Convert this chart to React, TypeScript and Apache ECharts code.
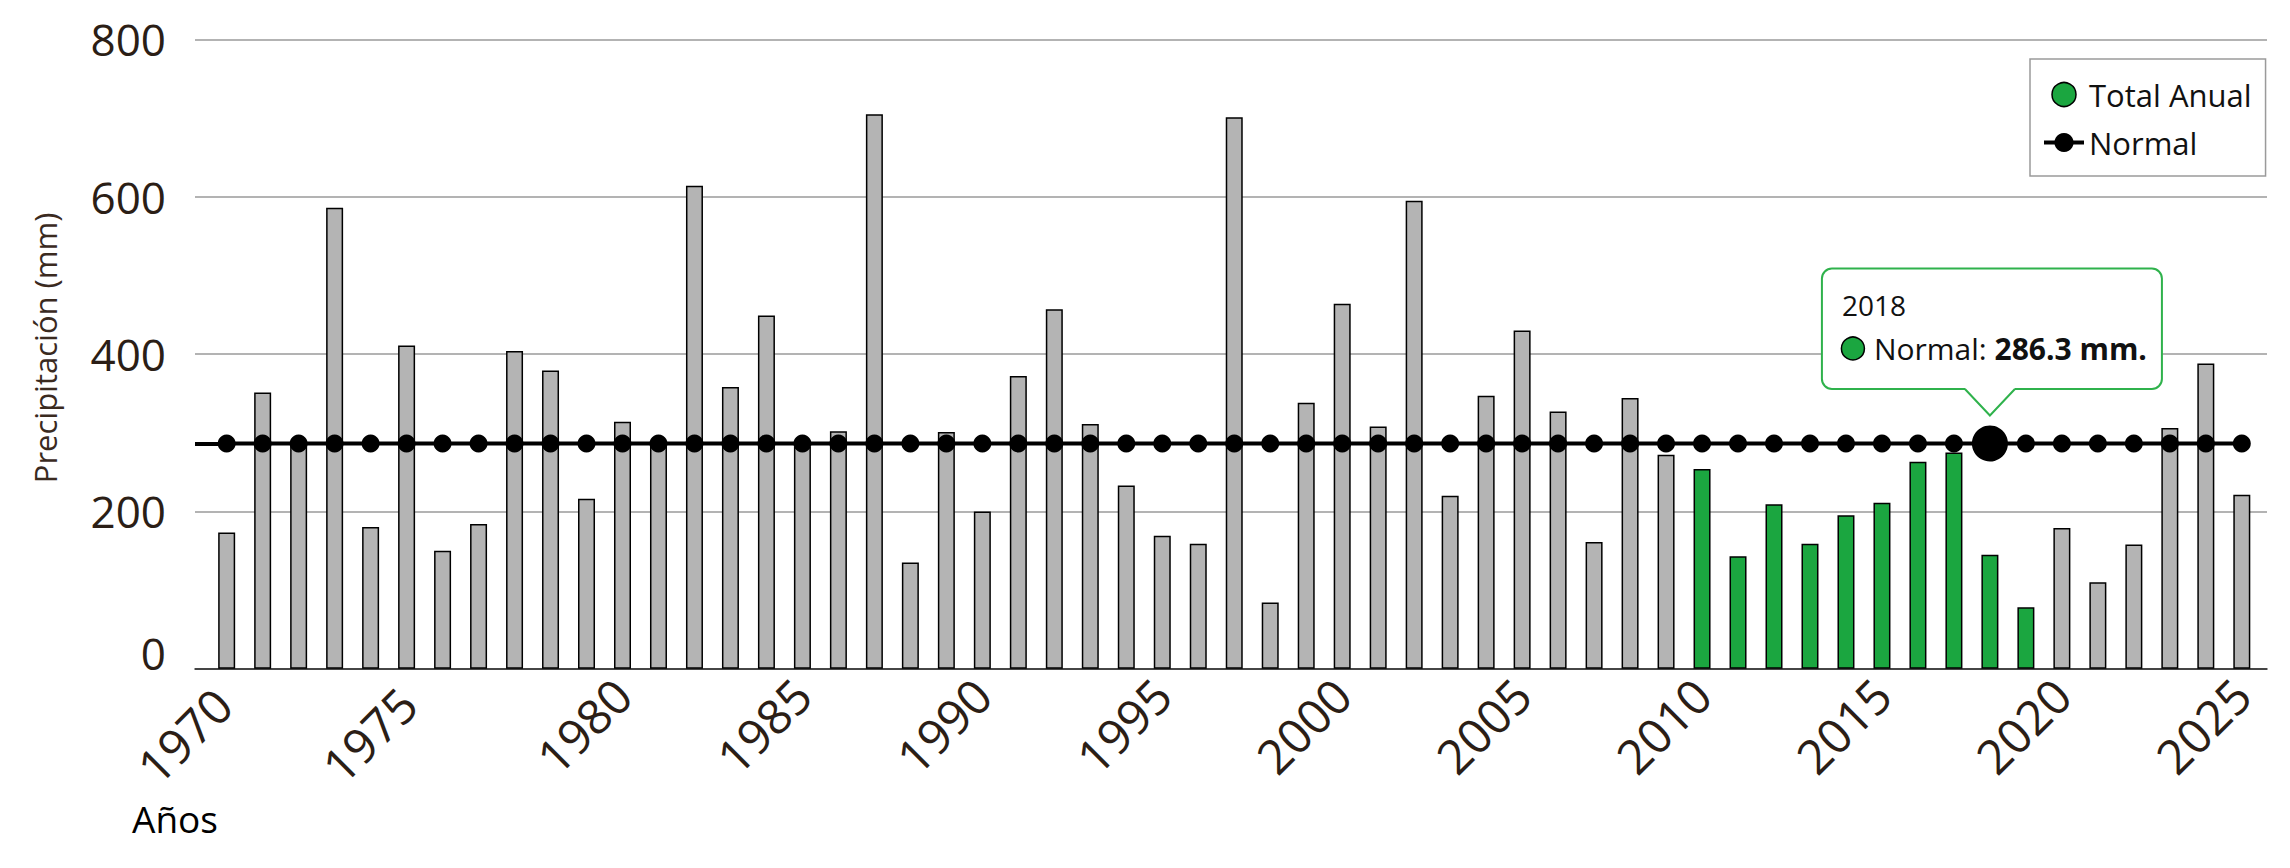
import { useEffect, useRef } from "react";
import * as echarts from "echarts";

// ---- data ----
const YEARS = [
  1969, 1970, 1971, 1972, 1973, 1974, 1975, 1976, 1977, 1978,
  1979, 1980, 1981, 1982, 1983, 1984, 1985, 1986, 1987, 1988,
  1989, 1990, 1991, 1992, 1993, 1994, 1995, 1996, 1997, 1998,
  1999, 2000, 2001, 2002, 2003, 2004, 2005, 2006, 2007, 2008,
  2009, 2010, 2011, 2012, 2013, 2014, 2015, 2016, 2017, 2018,
  2019, 2020, 2021, 2022, 2023, 2024, 2025,
];
const TOTALS = [
  173, 351, 285, 586, 180, 411, 150, 184, 404, 379,
  216, 314, 283, 614, 358, 449, 282, 302, 705, 135,
  301, 200, 372, 457, 311, 233, 169, 159, 701, 84,
  338, 464, 308, 595, 220, 347, 430, 327, 161, 344,
  272, 254, 143, 209, 159, 195, 211, 263, 275, 145,
  78, 179, 110, 158, 306, 388, 221,
];
const GREEN_YEARS = [2010, 2011, 2012, 2013, 2014, 2015, 2016, 2017, 2018, 2019];
const NORMAL = 286.3;
const TOOLTIP_YEAR = 2018;
const X_TICK_LABELS = [1970, 1975, 1980, 1985, 1990, 1995, 2000, 2005, 2010, 2015, 2020, 2025];
const Y_TICKS = [0, 200, 400, 600, 800];

// ---- styling ----
const GREEN = "#1ba640";
const GRAY = "#b4b4b4";
const FONT = "'Open Sans', 'Noto Sans', sans-serif";
const LABEL_COLOR = "#2b1e16";
const X_MIN = 1968.12;
const X_MAX = 2025.7;

export default function App() {
  const ref = useRef<HTMLDivElement>(null);

  useEffect(() => {
    if (!ref.current) return;
    const chart = echarts.init(ref.current, undefined, { renderer: "svg" });

    const barData = YEARS.map((y, i) => {
      const isGreen = GREEN_YEARS.includes(y);
      return {
        value: [y, TOTALS[i]],
        itemStyle: { color: isGreen ? GREEN : GRAY },
      };
    });
    const lineData = YEARS.map((y) =>
      y === TOOLTIP_YEAR
        ? { value: [y, NORMAL], symbolSize: 36 }
        : { value: [y, NORMAL] }
    );

    const xLabelText = { fontSize: 48, color: LABEL_COLOR, fontFamily: FONT };

    chart.setOption({
      animation: false,
      textStyle: { fontFamily: FONT },
      grid: { left: 195, right: 23, top: 39.4, bottom: 199.3, containLabel: false },
      legend: {
        orient: "vertical",
        left: 2030,
        top: 59,
        padding: [20, 14, 18, 12],
        itemGap: 17,
        itemWidth: 40,
        itemHeight: 24,
        backgroundColor: "#ffffff",
        borderColor: "#9a9a9a",
        borderWidth: 1.5,
        borderRadius: 0,
        textStyle: { fontSize: 31, color: "#111", fontFamily: FONT },
        lineStyle: { width: 4 },
        data: [
          {
            name: "Total Anual",
            icon: "circle",
            itemStyle: { color: GREEN, borderColor: "#000", borderWidth: 1.5 },
          },
          { name: "Normal" },
        ],
      },
      xAxis: {
        type: "value",
        min: X_MIN,
        max: X_MAX,
        splitLine: { show: false },
        axisTick: { show: false },
        axisLine: { show: true, onZero: false, lineStyle: { color: "#222", width: 1.5 } },
        axisLabel: {
          customValues: X_TICK_LABELS,
          rotate: 45,
          margin: 18,
          ...xLabelText,
          formatter: (v: number) => {
            const y = Math.round(v);
            if (y === 1970) return `{a|${y}}`;
            if (y === 1975) return `{b|${y}}`;
            return `{n|${y}}`;
          },
          rich: {
            n: { ...xLabelText },
            a: { ...xLabelText, padding: [0, 35, 42, 0] },
            b: { ...xLabelText, padding: [0, 31, 36, 0] },
          },
        },
      },
      yAxis: {
        type: "value",
        min: Y_TICKS[0],
        max: Y_TICKS[Y_TICKS.length - 1],
        interval: 200,
        axisLine: { show: false },
        axisTick: { show: false },
        splitLine: { lineStyle: { color: "#b3b3b3", width: 2 } },
        axisLabel: {
          fontSize: 44,
          margin: 29,
          color: LABEL_COLOR,
          fontFamily: FONT,
          formatter: (v: number) => (v === 0 ? "{zero|0}" : String(v)),
          rich: {
            zero: { fontSize: 44, color: LABEL_COLOR, fontFamily: FONT, padding: [0, 0, 32, 0] },
          },
        },
      },
      series: [
        {
          name: "Total Anual",
          type: "bar",
          barWidth: 17,
          data: barData,
          itemStyle: { color: GRAY, borderColor: "#000", borderWidth: 1.5 },
          z: 2,
        },
        {
          name: "Normal",
          type: "line",
          data: lineData,
          symbol: "circle",
          symbolSize: 18,
          itemStyle: { color: "#000" },
          lineStyle: { color: "#000", width: 4 },
          z: 5,
          markLine: {
            silent: true,
            symbol: "none",
            label: { show: false },
            lineStyle: { color: "#000", width: 4, type: "solid" },
            data: [[{ coord: [X_MIN, NORMAL] }, { coord: [YEARS[0], NORMAL] }]],
          },
        },
      ],
    });

    const p = chart.convertToPixel({ xAxisIndex: 0, yAxisIndex: 0 }, [TOOLTIP_YEAR, NORMAL]) as number[];
    const px = p[0];
    const py = p[1];
    const boxTop = py - 175;
    const boxBottom = py - 54.5;
    const tipY = py - 28;

    chart.setOption({
      graphic: [
        {
          type: "text",
          x: 45,
          y: 348,
          rotation: Math.PI / 2,
          style: {
            text: "Precipitación (mm)",
            fontSize: 31,
            fontFamily: FONT,
            fill: "#3a2a1f",
            align: "center",
            verticalAlign: "middle",
          },
        },
        {
          type: "text",
          x: 132,
          y: 818,
          style: {
            text: "Años",
            fontSize: 37,
            fontFamily: FONT,
            fill: "#000",
            align: "left",
            verticalAlign: "middle",
          },
        },
        {
          type: "rect",
          z: 100,
          shape: { x: px - 168, y: boxTop, width: 340, height: boxBottom - boxTop, r: 10 },
          style: { fill: "#fff", stroke: "#2fb24c", lineWidth: 2 },
        },
        {
          type: "polygon",
          z: 101,
          shape: {
            points: [
              [px - 24, boxBottom - 2],
              [px + 24, boxBottom - 2],
              [px + 25, boxBottom],
              [px, tipY],
              [px - 25, boxBottom],
            ],
          },
          style: { fill: "#fff", stroke: "none" },
        },
        {
          type: "polyline",
          z: 102,
          shape: { points: [[px - 25, boxBottom], [px, tipY], [px + 25, boxBottom]] },
          style: { stroke: "#2fb24c", lineWidth: 2, fill: "none" },
        },
        {
          type: "text",
          z: 103,
          x: px - 148,
          y: py - 138,
          style: {
            text: String(TOOLTIP_YEAR),
            fontSize: 28,
            fontFamily: FONT,
            fill: "#111",
            align: "left",
            verticalAlign: "middle",
          },
        },
        {
          type: "circle",
          z: 103,
          shape: { cx: px - 137, cy: py - 95, r: 11.5 },
          style: { fill: GREEN, stroke: "#000", lineWidth: 1.5 },
        },
        {
          type: "text",
          z: 103,
          x: px - 116,
          y: py - 95,
          style: {
            text: `{n|Normal: }{b|${NORMAL} mm.}`,
            align: "left",
            verticalAlign: "middle",
            rich: {
              n: { fontSize: 30, fontFamily: FONT, fill: "#111" },
              b: { fontSize: 30, fontFamily: FONT, fill: "#111", fontWeight: "bold" },
            },
          },
        },
      ],
    });

    return () => chart.dispose();
  }, []);

  return (
    <div
      ref={ref}
      style={{ position: "fixed", left: 0, top: 0, width: 2290, height: 868, background: "#fff" }}
    />
  );
}
